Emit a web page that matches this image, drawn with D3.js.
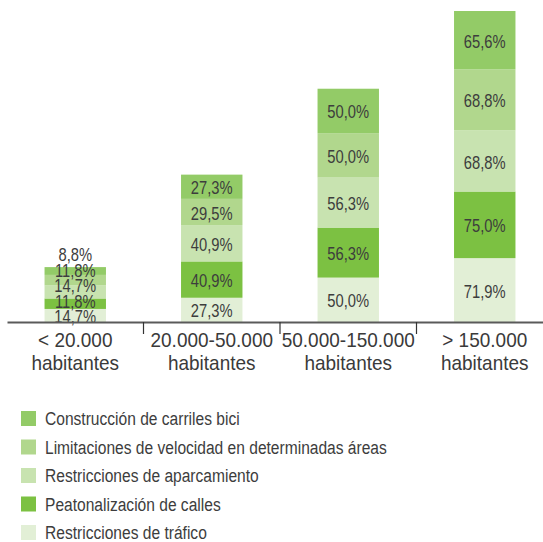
<!DOCTYPE html>
<html>
<head>
<meta charset="utf-8">
<script src="https://cdn.jsdelivr.net/npm/d3@7"></script>
<style>
  body { margin: 0; background: #fff; }
  svg { display: block; }
  .val { font-family: "Liberation Sans", Arial, sans-serif; font-size: 18px; fill: #3d3d3d; }
  .cat { font-family: "Liberation Sans", Arial, sans-serif; font-size: 20px; fill: #3a3a3a; }
  .leg { font-family: "Liberation Sans", Arial, sans-serif; font-size: 19px; fill: #3d3d3d; }
</style>
</head>
<body>
<div id="chart"></div>
<script>
// categories (two lines each)
var categories = ["< 20.000", "20.000-50.000", "50.000-150.000", "> 150.000"];
var catSub = "habitantes";

// series, bottom to top of each bar
var seriesNames = [
  "Restricciones de tráfico",
  "Peatonalización de calles",
  "Restricciones de aparcamiento",
  "Limitaciones de velocidad en determinadas áreas",
  "Construcción de carriles bici"
];
var seriesColors = ["#e2efd6", "#7cc142", "#c8e3b0", "#b1d78d", "#93cb67"];

var trafico      = [14.7, 27.3, 50.0, 71.9];
var peatonal     = [11.8, 40.9, 56.3, 75.0];
var aparcamiento = [14.7, 40.9, 56.3, 68.8];
var velocidad    = [11.8, 29.5, 50.0, 68.8];
var carriles     = [8.8, 27.3, 50.0, 65.6];

var seriesValues = [trafico, peatonal, aparcamiento, velocidad, carriles];

// legend goes top to bottom in reverse stack order
var legendOrder = [4, 3, 2, 1, 0];

var width = 543, height = 542;
var baseY = 322, topY = 11;
var narrow = 0.82; // fake condensed face
var labelGap = 15.5; // min vertical distance between value labels

var svg = d3.select("#chart").append("svg")
    .attr("width", width)
    .attr("height", height);

// build rows for d3.stack
var rows = categories.map(function(c, i) {
  var r = { cat: c };
  seriesNames.forEach(function(s, j) { r[s] = seriesValues[j][i]; });
  return r;
});

var stacked = d3.stack().keys(seriesNames)(rows);

var x = d3.scaleBand()
    .domain(categories)
    .range([7, 553])
    .paddingInner(0.55)
    .paddingOuter(0.275);

var maxTotal = d3.max(rows, function(r) { return d3.sum(seriesNames, function(s) { return r[s]; }); });

var y = d3.scaleLinear()
    .domain([0, maxTotal])
    .range([baseY, topY]);

var fmt = function(v) { return v.toFixed(1).replace(".", ",") + "%"; };

// bars
var layers = svg.selectAll("g.layer")
  .data(stacked)
  .enter().append("g")
    .attr("class", "layer")
    .attr("fill", function(d, i) { return seriesColors[i]; });

layers.selectAll("rect")
  .data(function(d) { return d; })
  .enter().append("rect")
    .attr("x", function(d) { return x(d.data.cat); })
    .attr("width", x.bandwidth())
    .attr("y", function(d) { return y(d[1]); })
    .attr("height", function(d) { return y(d[0]) - y(d[1]); });

// label positions: segment centres, pushed apart upward in thin bars
var labelY = categories.map(function(c, i) {
  var out = [], prev = Infinity;
  stacked.forEach(function(layer) {
    var p = layer[i];
    var cy = Math.min((y(p[0]) + y(p[1])) / 2 + 1, prev - labelGap);
    out.push(cy);
    prev = cy;
  });
  return out;
});

var labels = [];
stacked.forEach(function(layer, j) {
  layer.forEach(function(p, i) {
    labels.push({ cx: x(p.data.cat) + x.bandwidth() / 2, cy: labelY[i][j], v: p[1] - p[0] });
  });
});

svg.selectAll("text.val")
  .data(labels)
  .enter().append("text")
    .attr("class", "val")
    .attr("text-anchor", "middle")
    .attr("dominant-baseline", "central")
    .attr("transform", function(d) {
      return "translate(" + d.cx + "," + d.cy + ") scale(" + narrow + ",1)";
    })
    .text(function(d) { return fmt(d.v); });

// x axis line
var xAxis = d3.axisBottom(x).tickSize(0).tickSizeOuter(0).tickFormat("");
var axisG = svg.append("g")
    .attr("transform", "translate(0," + baseY + ")")
    .call(xAxis);
axisG.select(".domain")
    .attr("stroke", "#5a5a5a")
    .attr("stroke-width", 2);

// separators between categories
var seps = categories.slice(1).map(function(c) { return x(c) - x.step() * x.paddingInner() / 2; });
svg.selectAll("line.sep")
  .data(seps)
  .enter().append("line")
    .attr("class", "sep")
    .attr("x1", function(d) { return d; })
    .attr("x2", function(d) { return d; })
    .attr("y1", baseY)
    .attr("y2", baseY + 12)
    .attr("stroke", "#333")
    .attr("stroke-width", 1.2);

// category labels
var catText = svg.selectAll("text.cat")
  .data(categories)
  .enter().append("text")
    .attr("class", "cat")
    .attr("text-anchor", "middle")
    .attr("transform", function(d) {
      return "translate(" + (x(d) + x.bandwidth() / 2) + ",347) scale(0.95,1)";
    });
catText.append("tspan")
    .attr("x", 0)
    .text(function(d) { return d; });
catText.append("tspan")
    .attr("x", 0)
    .attr("dy", 23)
    .text(catSub);

// legend
var legend = svg.selectAll("g.leg")
  .data(legendOrder)
  .enter().append("g")
    .attr("transform", function(d, i) { return "translate(21," + (418.5 + i * 28.5) + ")"; });

legend.append("rect")
    .attr("x", 0)
    .attr("y", -7.5)
    .attr("width", 15)
    .attr("height", 15)
    .attr("fill", function(d) { return seriesColors[d]; });

legend.append("text")
    .attr("class", "leg")
    .attr("transform", "translate(24,0) scale(" + narrow + ",1)")
    .attr("dominant-baseline", "central")
    .text(function(d) { return seriesNames[d]; });
</script>
</body>
</html>
